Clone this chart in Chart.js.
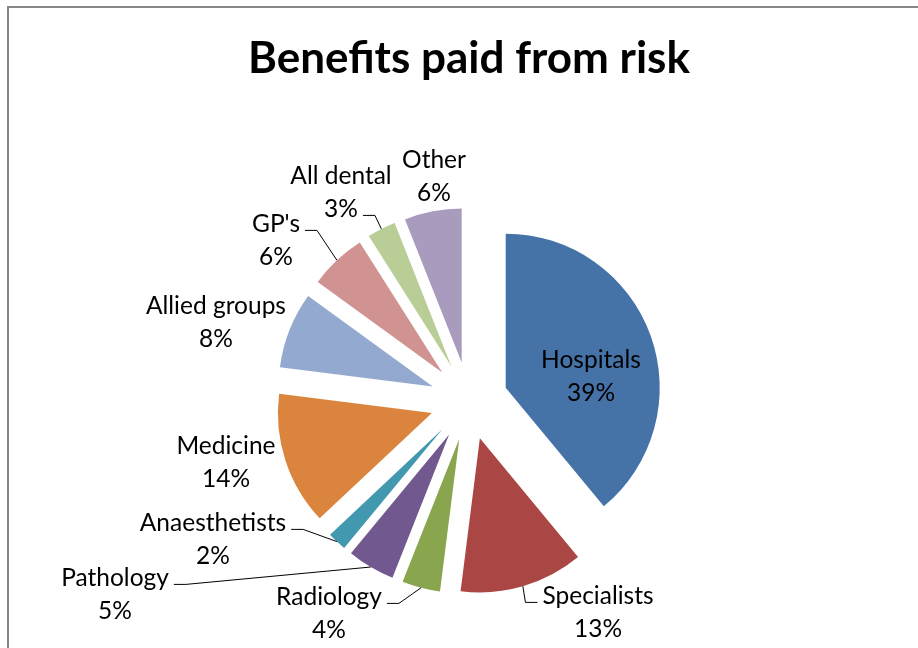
<!DOCTYPE html>
<html>
<head>
<meta charset="utf-8">
<title>Benefits paid from risk</title>
<script src="https://cdn.jsdelivr.net/npm/chart.js@4.4.1/dist/chart.umd.min.js"></script>
<style>
  html, body { margin: 0; padding: 0; background: #fff; }
</style>
</head>
<body>
<canvas id="grafico" width="918" height="648"></canvas>
<script>
// Datos del gráfico (porcentaje de beneficios pagados)
var categorias = ['Hospitals', 'Specialists', 'Radiology', 'Pathology', 'Anaesthetists',
                  'Medicine', 'Allied groups', "GP's", 'All dental', 'Other'];
var valores = [39, 13, 4, 5, 2, 14, 8, 6, 3, 6];
var titulo = 'Benefits paid from risk';

// Colores de la paleta de Excel 2007
var colores = ['#4572A7', '#AA4643', '#89A54E', '#71588F', '#4198AF',
               '#DB843D', '#93A9CF', '#D19392', '#B9CD96', '#A99BBD'];

// Posición de cada etiqueta respecto al centro del pastel, y si lleva línea guía
var ubicacionEtiquetas = [
  { dx: 122, dy: -24 },
  { dx: 129, dy: 212, guia: true },
  { dx: -140, dy: 213, guia: true },
  { dx: -354, dy: 194, guia: true },
  { dx: -256, dy: 139, guia: true },
  { dx: -243, dy: 62 },
  { dx: -253, dy: -78 },
  { dx: -193, dy: -160, guia: true },
  { dx: -128, dy: -208, guia: true, linea: 1 },
  { dx: -35, dy: -224 }
];

var fuente = 'Lato, "Open Sans", sans-serif';

// Marco gris alrededor del gráfico
var marco = {
  id: 'marco',
  beforeDraw: function (chart) {
    var ctx = chart.ctx;
    ctx.save();
    ctx.fillStyle = '#ffffff';
    ctx.fillRect(0, 0, chart.width, chart.height);
    ctx.strokeStyle = '#878787';
    ctx.lineWidth = 2;
    ctx.strokeRect(8, 7, chart.width + 20, chart.height + 20);
    ctx.restore();
  }
};

// Separar las porciones del centro (pastel explotado)
var explotar = {
  id: 'explotar',
  beforeDatasetsDraw: function (chart, args, opts) {
    var area = chart.chartArea;
    var cx = (area.left + area.right) / 2;
    var cy = (area.top + area.bottom) / 2;
    chart.getDatasetMeta(0).data.forEach(function (arco) {
      var medio = (arco.startAngle + arco.endAngle) / 2;
      arco.x = cx + Math.cos(medio) * opts.distancia;
      arco.y = cy + Math.sin(medio) * opts.distancia;
    });
  }
};

// Etiquetas con nombre y porcentaje, con líneas guía
var etiquetas = {
  id: 'etiquetas',
  afterDatasetsDraw: function (chart, args, opts) {
    var ctx = chart.ctx;
    var area = chart.chartArea;
    var cx = (area.left + area.right) / 2;
    var cy = (area.top + area.bottom) / 2;
    var datos = chart.data.datasets[0].data;
    var total = datos.reduce(function (a, b) { return a + b; }, 0);
    ctx.save();
    ctx.font = opts.tamano + 'px ' + fuente;
    ctx.fillStyle = '#000';
    ctx.textAlign = 'center';
    ctx.textBaseline = 'middle';
    chart.getDatasetMeta(0).data.forEach(function (arco, i) {
      var ub = opts.ubicacion[i];
      var lineas = [chart.data.labels[i], Math.round(datos[i] / total * 100) + '%'];
      var tx = cx + ub.dx;
      var ty = cy + ub.dy;
      var y0 = ty - opts.interlineado / 2;
      lineas.forEach(function (texto, j) {
        ctx.fillText(texto, tx, y0 + j * opts.interlineado);
      });
      if (ub.guia) {
        var medio = (arco.startAngle + arco.endAngle) / 2;
        var px = arco.x + Math.cos(medio) * arco.outerRadius;
        var py = arco.y + Math.sin(medio) * arco.outerRadius;
        var n = ub.linea || 0;
        var ancho = ctx.measureText(lineas[n]).width;
        var ly = y0 + n * opts.interlineado + 6;
        var dir = px < tx ? -1 : 1;
        var fin = tx + dir * (ancho / 2 + 5);
        ctx.beginPath();
        ctx.moveTo(px, py);
        ctx.lineTo(fin + dir * 12, ly);
        ctx.lineTo(fin, ly);
        ctx.strokeStyle = '#000';
        ctx.lineWidth = 1;
        ctx.stroke();
      }
    });
    ctx.restore();
  }
};

var grafico = new Chart(document.getElementById('grafico').getContext('2d'), {
  type: 'pie',
  data: {
    labels: categorias,
    datasets: [{
      data: valores,
      backgroundColor: colores,
      borderWidth: 0
    }]
  },
  options: {
    responsive: false,
    animation: false,
    devicePixelRatio: 1,
    radius: 154,
    layout: { padding: { left: 20, right: 0, top: 0, bottom: 0 } },
    plugins: {
      legend: { display: false },
      tooltip: { enabled: false },
      title: {
        display: true,
        text: titulo,
        color: '#000',
        font: { family: fuente, size: 44, weight: 'bold', lineHeight: 1.2 },
        padding: { top: 32, bottom: 69 }
      },
      explotar: { distancia: 39 },
      etiquetas: { ubicacion: ubicacionEtiquetas, tamano: 24.5, interlineado: 33 }
    }
  },
  plugins: [marco, explotar, etiquetas]
});
</script>
</body>
</html>
